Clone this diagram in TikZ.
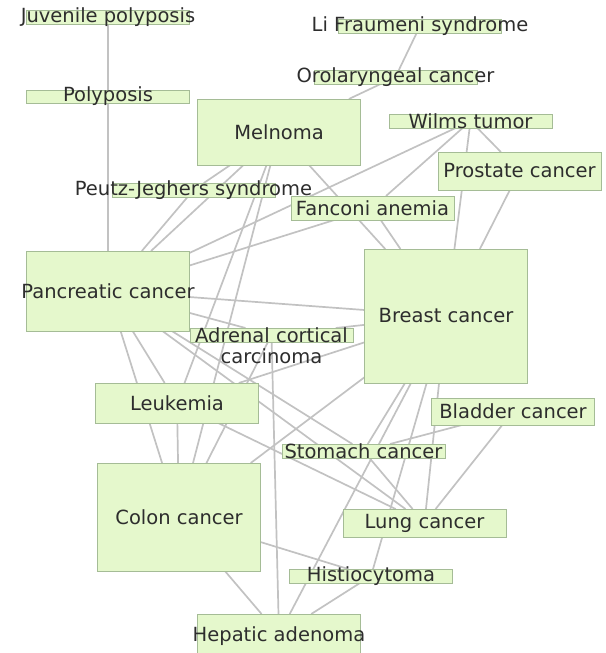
\documentclass[tikz,border=0pt]{standalone}
\usepackage{fontspec}
\setmainfont{DejaVu Sans}
\definecolor{boxfill}{RGB}{229,248,204}
\definecolor{boxborder}{RGB}{165,188,150}
\definecolor{edgegray}{RGB}{194,194,194}
\definecolor{txt}{RGB}{45,45,45}
\pgfdeclarelayer{bg}
\pgfsetlayers{bg,main}
\begin{document}
\begin{tikzpicture}[x=1pt,y=-1pt,
  box/.style={draw=boxborder, fill=boxfill, line width=1pt, inner sep=0pt, outer sep=0pt, minimum width=163pt},
  lbl/.style={font=\fontsize{19.5}{21}\selectfont, text=txt, inner sep=0pt, align=center},
  edge/.style={draw=edgegray, line width=1.7pt}]
\useasboundingbox (0,0) rectangle (605,653);
% boxes
\node[box, minimum height=14pt] (jp) at (108,17) {};
\node[box, minimum height=13pt] (poly) at (108,96.5) {};
\node[box, minimum height=66pt] (mel) at (279,132) {};
\node[box, minimum height=14pt] (lf) at (420,26) {};
\node[box, minimum height=14pt] (oro) at (395.5,77) {};
\node[box, minimum height=14pt] (wilms) at (470.5,121) {};
\node[box, minimum height=38pt] (prost) at (519.5,171) {};
\node[box, minimum height=14pt] (peutz) at (193.5,190) {};
\node[box, minimum height=24pt] (fanc) at (372.5,208) {};
\node[box, minimum height=80pt] (pan) at (108,291) {};
\node[box, minimum height=134pt] (breast) at (446,316) {};
\node[box, minimum height=14pt] (adr) at (271.5,335) {};
\node[box, minimum height=40pt] (leuk) at (177,403) {};
\node[box, minimum height=27pt] (blad) at (513,411.5) {};
\node[box, minimum height=14pt] (stom) at (363.5,451) {};
\node[box, minimum height=108pt] (colon) at (179,517) {};
\node[box, minimum height=28pt] (lung) at (424.5,523) {};
\node[box, minimum height=14pt] (hist) at (371,576) {};
\node[box, minimum height=41pt] (hep) at (279,634.5) {};
% edges
\begin{pgfonlayer}{bg}
\draw[edge] (jp) -- (poly);
\draw[edge] (poly) -- (pan);
\draw[edge] (lf) -- (oro);
\draw[edge] (oro) -- (mel);
\draw[edge] (wilms) -- (prost);
\draw[edge] (wilms) -- (breast);
\draw[edge] (wilms) -- (fanc);
\draw[edge] (wilms) -- (pan);
\draw[edge] (mel) -- (breast);
\draw[edge] (fanc) -- (breast);
\draw[edge] (prost) -- (breast);
\draw[edge] (mel) -- (pan);
\draw[edge] (mel) -- (peutz);
\draw[edge] (peutz) -- (pan);
\draw[edge] (mel) -- (leuk);
\draw[edge] (mel) -- (colon);
\draw[edge] (fanc) -- (pan);
\draw[edge] (pan) -- (breast);
\draw[edge] (pan) -- (adr);
\draw[edge] (pan) -- (leuk);
\draw[edge] (pan) -- (colon);
\draw[edge] (pan) -- (stom);
\draw[edge] (pan) -- (lung);
\draw[edge] (breast) -- (adr);
\draw[edge] (breast) -- (leuk);
\draw[edge] (breast) -- (colon);
\draw[edge] (breast) -- (stom);
\draw[edge] (breast) -- (hep);
\draw[edge] (breast) -- (hist);
\draw[edge] (breast) -- (lung);
\draw[edge] (blad) -- (stom);
\draw[edge] (blad) -- (lung);
\draw[edge] (leuk) -- (colon);
\draw[edge] (leuk) -- (lung);
\draw[edge] (adr) -- (hep);
\draw[edge] (adr) -- (colon);
\draw[edge] (stom) -- (lung);
\draw[edge] (colon) -- (hep);
\draw[edge] (colon) -- (hist);
\draw[edge] (hist) -- (hep);
\end{pgfonlayer}
% labels
\node[lbl] (tjp) at (jp) {Juvenile polyposis};
\node[lbl] (tpoly) at (poly) {Polyposis};
\node[lbl] (tmel) at (mel) {Melnoma};
\node[lbl] (tlf) at (lf) {Li Fraumeni syndrome};
\node[lbl] (toro) at (oro) {Orolaryngeal cancer};
\node[lbl] (twilms) at (wilms) {Wilms tumor};
\node[lbl] (tprost) at (prost) {Prostate cancer};
\node[lbl] (tpeutz) at (peutz) {Peutz-Jeghers syndrome};
\node[lbl] (tfanc) at (fanc) {Fanconi anemia};
\node[lbl] (tpan) at (pan) {Pancreatic cancer};
\node[lbl] (tbreast) at (breast) {Breast cancer};
\node[lbl] (tadr) at (271.5,346) {Adrenal cortical\\carcinoma};
\node[lbl] (tleuk) at (leuk) {Leukemia};
\node[lbl] (tblad) at (blad) {Bladder cancer};
\node[lbl] (tstom) at (stom) {Stomach cancer};
\node[lbl] (tcolon) at (colon) {Colon cancer};
\node[lbl] (tlung) at (lung) {Lung cancer};
\node[lbl] (thist) at (hist) {Histiocytoma};
\node[lbl] (thep) at (279,636) {Hepatic adenoma};
\end{tikzpicture}
\end{document}
